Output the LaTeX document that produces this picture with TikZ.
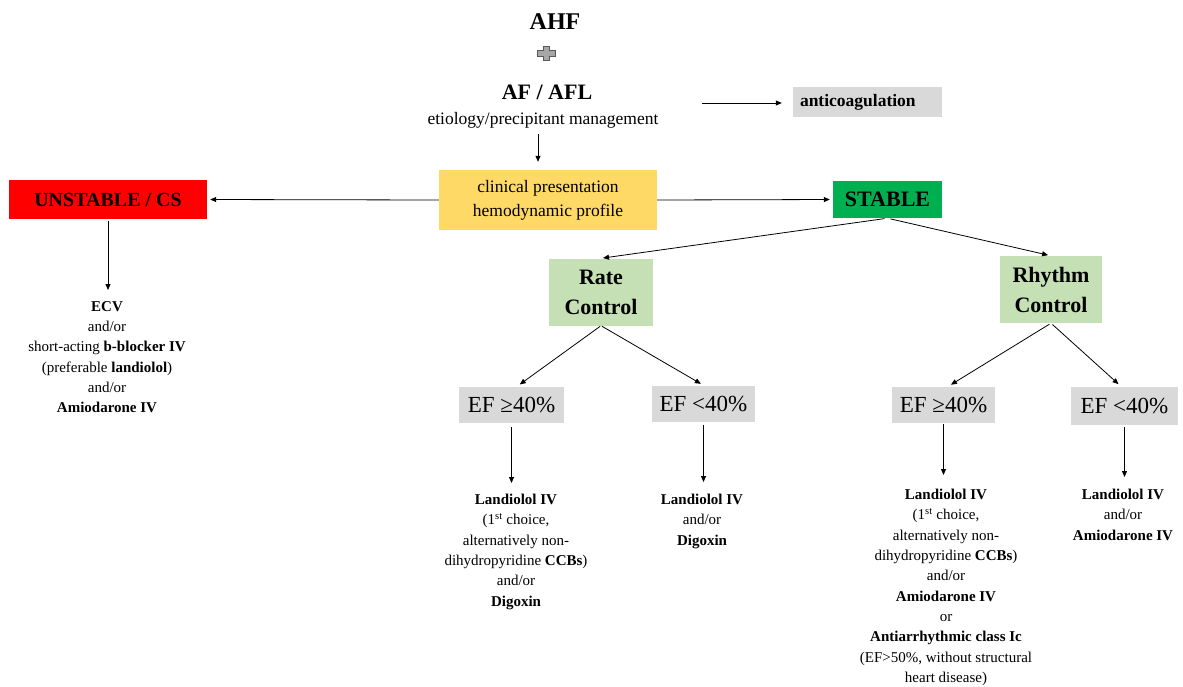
\documentclass[tikz,border=0pt]{standalone}
\usepackage{fontspec}
\setmainfont{Liberation Serif}
\usetikzlibrary{arrows.meta}
\definecolor{boxgray}{HTML}{D9D9D9}
\definecolor{boxred}{HTML}{FF0000}
\definecolor{boxgreen}{HTML}{00B050}
\definecolor{boxlgreen}{HTML}{C5E0B4}
\definecolor{boxyellow}{HTML}{FFD966}
\definecolor{plusgray}{HTML}{A6A6A6}
\definecolor{plusdark}{HTML}{595959}
\tikzset{
  arr/.style={draw=black, line width=0.8pt, -{Triangle[length=6pt,width=5pt]}},
  box/.style={inner sep=0pt, align=center},
  efbox/.style={box, fill=boxgray, minimum height=36pt, font=\fontsize{23}{27}\selectfont},
  ctrlbox/.style={box, fill=boxlgreen, minimum height=67pt, font=\bfseries\fontsize{22}{30}\selectfont},
  txtblock/.style={inner sep=0pt, align=center, anchor=north, font=\fontsize{15}{20.3}\selectfont},
}
\begin{document}
\begin{tikzpicture}[x=1pt,y=-1pt]
\useasboundingbox (0,0) rectangle (1183,686);
\fill[white] (0,0) rectangle (1183,686);

% top titles
\node[inner sep=0pt, font=\bfseries\fontsize{24}{28}\selectfont] (ahf) at (555,22) {AHF};
\fill[plusgray, draw=plusdark, line width=0.5pt]
  (543,46) -- (549,46) -- (549,50.5) -- (555,50.5) -- (555,56) -- (549,56) -- (549,60)
  -- (543,60) -- (543,56) -- (537,56) -- (537,50.5) -- (543,50.5) -- cycle;
\node[inner sep=0pt, font=\bfseries\fontsize{22}{26}\selectfont] (afl) at (547,92) {AF / AFL};
\node[inner sep=0pt, font=\fontsize{17.5}{21}\selectfont] (etio) at (543,120) {etiology/precipitant management};

\coordinate (acstart) at (702,103);
\node[fill=boxgray, inner xsep=7pt, inner ysep=0pt, minimum height=30pt, text width=135pt, align=left,
      font=\bfseries\fontsize{17.5}{21}\selectfont] (anticoag) at (867.5,102) {anticoagulation};
\draw[arr, shorten >=11pt] (acstart) -- (acstart -| anticoag.west);

% clinical presentation
\node[box, fill=boxyellow, minimum width=218pt, minimum height=60pt,
      font=\fontsize{17.5}{24}\selectfont] (clin) at (548,200) {clinical presentation\\hemodynamic profile};
\draw[arr, shorten <=6pt, shorten >=8pt] ([xshift=-10pt]clin.north |- etio.south) -- ([xshift=-10pt]clin.north);

\node[box, fill=boxred, minimum width=198pt, minimum height=39pt,
      font=\bfseries\fontsize{20}{24}\selectfont] (unst) at (108,199.5) {UNSTABLE / CS};
\node[box, fill=boxgreen, minimum width=109pt, minimum height=37pt,
      font=\bfseries\fontsize{22}{26}\selectfont] (stab) at (887.5,199.5) {STABLE};
\draw[arr, shorten >=3pt] (clin.west) -- (unst.east);
\draw[arr, shorten >=3pt] (clin.east) -- (stab.west);

% control boxes
\node[ctrlbox, minimum width=104pt] (rate) at (601,292) {Rate\\Control};
\node[ctrlbox, minimum width=102pt] (rhy) at (1051,289.5) {Rhythm\\Control};
\draw[arr, shorten <=3pt, shorten >=2pt] (stab.south) -- (rate.north);
\draw[arr, shorten <=3pt, shorten >=3pt] (stab.south) -- (rhy.north);

% EF boxes
\node[efbox, minimum width=105pt] (ef1) at (511.5,405) {EF ≥40\%};
\node[efbox, minimum width=103pt] (ef2) at (703.5,403.5) {EF <40\%};
\node[efbox, minimum width=103pt] (ef3) at (943.5,405) {EF ≥40\%};
\node[efbox, minimum width=107pt, minimum height=38pt] (ef4) at (1124.5,406) {EF <40\%};
\draw[arr, shorten <=1pt, shorten >=4pt] (rate.south) -- ([xshift=5pt]ef1.north);
\draw[arr, shorten <=1pt, shorten >=3pt] (rate.south) -- (ef2.north);
\draw[arr, shorten <=2pt, shorten >=4pt] (rhy.south) -- ([xshift=4pt]ef3.north);
\draw[arr, shorten <=2pt, shorten >=4pt] (rhy.south) -- ([xshift=-3pt]ef4.north);

% text blocks
\node[txtblock] (t0) at (107,301) {\textbf{ECV}\\and/or\\short-acting \textbf{b-blocker IV}\\(preferable \textbf{landiolol})\\and/or\\\textbf{Amiodarone IV}};
\node[txtblock] (t1) at (516,494) {\textbf{Landiolol IV}\\(1\textsuperscript{st} choice,\\alternatively non-\\dihydropyridine \textbf{CCBs})\\and/or\\\textbf{Digoxin}};
\node[txtblock] (t2) at (702,494) {\textbf{Landiolol IV}\\and/or\\\textbf{Digoxin}};
\node[txtblock] (t3) at (946,489) {\textbf{Landiolol IV}\\(1\textsuperscript{st} choice,\\alternatively non-\\dihydropyridine \textbf{CCBs})\\and/or\\\textbf{Amiodarone IV}\\or\\\textbf{Antiarrhythmic class Ic}\\(EF>50\%, without structural\\heart disease)};
\node[txtblock] (t4) at (1123,489) {\textbf{Landiolol IV}\\and/or\\\textbf{Amiodarone IV}};

\draw[arr, shorten <=2pt, shorten >=11pt] (unst.south) -- (unst.south |- t0.north);
\draw[arr, shorten <=4pt, shorten >=11pt] (ef1.south) -- (ef1.south |- t1.north);
\draw[arr, shorten <=3pt, shorten >=12pt] (ef2.south) -- (ef2.south |- t2.north);
\draw[arr, shorten <=1pt, shorten >=14pt] (ef3.south) -- (ef3.south |- t3.north);
\draw[arr, shorten <=2pt, shorten >=12pt] (ef4.south) -- (ef4.south |- t4.north);
\end{tikzpicture}
\end{document}
